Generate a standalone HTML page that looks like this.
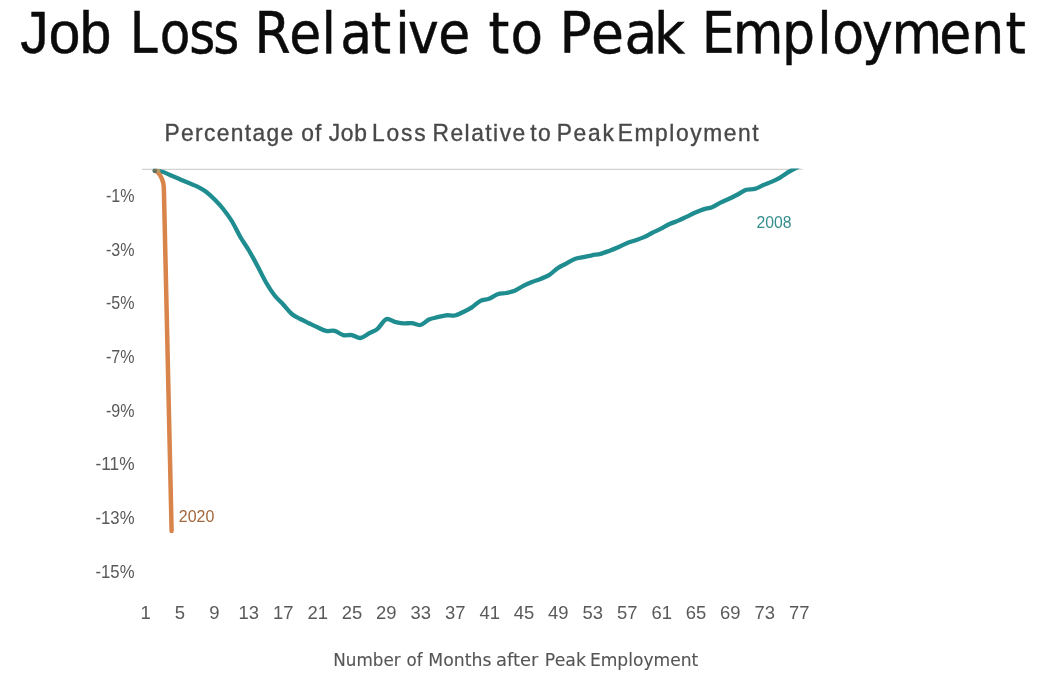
<!DOCTYPE html>
<html><head><meta charset="utf-8"><style>
html,body{margin:0;padding:0;background:#fff;}
body{width:1042px;height:688px;overflow:hidden;}
svg{display:block}
text{font-family:"Liberation Sans",sans-serif}
.t{font-size:60px;fill:#0b0b0b;stroke:#0b0b0b;stroke-width:0.5px}
.st{font-size:23.5px;fill:#484848;stroke:#484848;stroke-width:0.35px}
.yl{font-size:19px;fill:#595959}
.xl{font-size:18.5px;fill:#595959}
.xt{font-size:17.8px;font-family:'DejaVu Sans',sans-serif;fill:#555;stroke:#555;stroke-width:0.1px}
.lb{font-size:16px}
</style></head><body>
<svg width="1042" height="688" viewBox="0 0 1042 688">
<rect width="1042" height="688" fill="#fff"/>
<text transform="scale(0.9448,1)" x="21.53 51.55 84.53" y="53.2" class="t" style="font-family:&quot;Liberation Sans&quot;,sans-serif;font-size:60px">Job</text>
<text transform="scale(0.8701,1)" x="149.06 183.5 217.55 245.13" y="53.2" class="t" style="font-family:&quot;DejaVu Sans&quot;,sans-serif;font-size:57.5px">Loss</text>
<text transform="scale(0.9033,1)" x="281.88 320.19 355.99 376.6 410.55 437.52 451.6 485.19" y="53.2" class="t" style="font-family:&quot;DejaVu Sans&quot;,sans-serif;font-size:57.5px">Relative</text>
<text transform="scale(0.9248,1)" x="528.3 552.14" y="53.2" class="t" style="font-family:&quot;DejaVu Sans&quot;,sans-serif;font-size:57.5px">to</text>
<text transform="scale(0.9308,1)" x="601.21 634.92 670.96 702.62" y="53.2" class="t" style="font-family:&quot;DejaVu Sans&quot;,sans-serif;font-size:57.5px">Peak</text>
<text transform="scale(0.9048,1)" x="775.68 809.79 864.16 903.29 919.82 952.7 985.19 1037.97 1073.44 1111.34" y="53.2" class="t" style="font-family:&quot;DejaVu Sans&quot;,sans-serif;font-size:57.5px">Employment</text>

<text transform="scale(0.97,1)" x="169.65" y="141.1" class="st" textLength="132.62" lengthAdjust="spacing">Percentage</text><text transform="scale(0.97,1)" x="310.65" y="141.1" class="st" textLength="20.71" lengthAdjust="spacing">of</text><text transform="scale(0.97,1)" x="338.97" y="141.1" class="st" textLength="39.24" lengthAdjust="spacing">Job</text><text transform="scale(0.97,1)" x="383.57" y="141.1" class="st" textLength="55.32" lengthAdjust="spacing">Loss</text><text transform="scale(0.97,1)" x="445.94" y="141.1" class="st" textLength="95.48" lengthAdjust="spacing">Relative</text><text transform="scale(0.97,1)" x="546.6" y="141.1" class="st" textLength="21.12" lengthAdjust="spacing">to</text><text transform="scale(0.97,1)" x="573.88" y="141.1" class="st" textLength="58.97" lengthAdjust="spacing">Peak</text><text transform="scale(0.97,1)" x="636.87" y="141.1" class="st" textLength="145.22" lengthAdjust="spacing">Employment</text>
<text x="333.21" y="666.4" class="xt" textLength="67.4" lengthAdjust="spacingAndGlyphs">Number</text><text x="406.56" y="666.4" class="xt" textLength="16.03" lengthAdjust="spacingAndGlyphs">of</text><text x="428.36" y="666.4" class="xt" textLength="63.11" lengthAdjust="spacingAndGlyphs">Months</text><text x="496.09" y="666.4" class="xt" textLength="42.39" lengthAdjust="spacingAndGlyphs">after</text><text x="544.85" y="666.4" class="xt" textLength="41.07" lengthAdjust="spacingAndGlyphs">Peak</text><text x="589.88" y="666.4" class="xt" textLength="108.38" lengthAdjust="spacingAndGlyphs">Employment</text>
<line x1="142" y1="169.4" x2="802.5" y2="169.4" stroke="#d2d2d2" stroke-width="1.4"/>
<text x="106.0" y="201.8" class="yl" textLength="28.5" lengthAdjust="spacingAndGlyphs">-1%</text>
<text x="106.0" y="255.5" class="yl" textLength="28.5" lengthAdjust="spacingAndGlyphs">-3%</text>
<text x="106.0" y="309.2" class="yl" textLength="28.5" lengthAdjust="spacingAndGlyphs">-5%</text>
<text x="106.0" y="362.9" class="yl" textLength="28.5" lengthAdjust="spacingAndGlyphs">-7%</text>
<text x="106.0" y="416.6" class="yl" textLength="28.5" lengthAdjust="spacingAndGlyphs">-9%</text>
<text x="95.5" y="470.3" class="yl" textLength="39" lengthAdjust="spacingAndGlyphs">-11%</text>
<text x="95.5" y="524.0" class="yl" textLength="39" lengthAdjust="spacingAndGlyphs">-13%</text>
<text x="95.5" y="577.7" class="yl" textLength="39" lengthAdjust="spacingAndGlyphs">-15%</text>

<text x="145.6" y="618.6" text-anchor="middle" class="xl">1</text>
<text x="180.0" y="618.6" text-anchor="middle" class="xl">5</text>
<text x="214.4" y="618.6" text-anchor="middle" class="xl">9</text>
<text x="238.5" y="618.6" class="xl" textLength="20.5" lengthAdjust="spacingAndGlyphs">13</text>
<text x="272.9" y="618.6" class="xl" textLength="20.5" lengthAdjust="spacingAndGlyphs">17</text>
<text x="307.4" y="618.6" class="xl" textLength="20.5" lengthAdjust="spacingAndGlyphs">21</text>
<text x="341.8" y="618.6" class="xl" textLength="20.5" lengthAdjust="spacingAndGlyphs">25</text>
<text x="376.1" y="618.6" class="xl" textLength="20.5" lengthAdjust="spacingAndGlyphs">29</text>
<text x="410.5" y="618.6" class="xl" textLength="20.5" lengthAdjust="spacingAndGlyphs">33</text>
<text x="444.9" y="618.6" class="xl" textLength="20.5" lengthAdjust="spacingAndGlyphs">37</text>
<text x="479.4" y="618.6" class="xl" textLength="20.5" lengthAdjust="spacingAndGlyphs">41</text>
<text x="513.8" y="618.6" class="xl" textLength="20.5" lengthAdjust="spacingAndGlyphs">45</text>
<text x="548.1" y="618.6" class="xl" textLength="20.5" lengthAdjust="spacingAndGlyphs">49</text>
<text x="582.5" y="618.6" class="xl" textLength="20.5" lengthAdjust="spacingAndGlyphs">53</text>
<text x="616.9" y="618.6" class="xl" textLength="20.5" lengthAdjust="spacingAndGlyphs">57</text>
<text x="651.4" y="618.6" class="xl" textLength="20.5" lengthAdjust="spacingAndGlyphs">61</text>
<text x="685.8" y="618.6" class="xl" textLength="20.5" lengthAdjust="spacingAndGlyphs">65</text>
<text x="720.1" y="618.6" class="xl" textLength="20.5" lengthAdjust="spacingAndGlyphs">69</text>
<text x="754.5" y="618.6" class="xl" textLength="20.5" lengthAdjust="spacingAndGlyphs">73</text>
<text x="789.0" y="618.6" class="xl" textLength="20.5" lengthAdjust="spacingAndGlyphs">77</text>

<defs><clipPath id="pa"><rect x="100" y="168.6" width="720" height="420"/></clipPath></defs>
<g clip-path="url(#pa)" fill="none" stroke-linejoin="round" stroke-linecap="round">
<path d="M154.60,170.50 C156.03,170.75 160.32,171.12 163.17,172.00 C166.03,172.88 168.89,174.57 171.75,175.80 C174.61,177.03 177.47,178.20 180.32,179.40 C183.18,180.60 186.04,181.80 188.90,183.00 C191.76,184.20 194.62,185.13 197.47,186.60 C200.33,188.07 203.19,189.63 206.05,191.80 C208.91,193.97 211.77,196.73 214.62,199.60 C217.48,202.47 220.34,205.43 223.20,209.00 C226.06,212.57 228.92,216.33 231.77,221.00 C234.63,225.67 237.49,232.08 240.35,237.00 C243.21,241.92 246.07,245.67 248.92,250.50 C251.78,255.33 254.64,260.67 257.50,266.00 C260.36,271.33 263.22,277.58 266.07,282.50 C268.93,287.42 271.79,291.83 274.65,295.50 C277.51,299.17 280.37,301.42 283.23,304.50 C286.08,307.58 288.94,311.58 291.80,314.00 C294.66,316.42 297.52,317.47 300.38,319.00 C303.23,320.53 306.09,321.82 308.95,323.20 C311.81,324.58 314.67,326.02 317.52,327.30 C320.38,328.58 323.24,330.30 326.10,330.90 C328.96,331.50 331.82,330.20 334.67,330.90 C337.53,331.60 340.39,334.40 343.25,335.10 C346.11,335.80 348.97,334.62 351.82,335.10 C354.68,335.58 357.54,338.28 360.40,338.00 C363.26,337.72 366.12,334.93 368.97,333.40 C371.83,331.87 374.69,331.17 377.55,328.80 C380.41,326.43 383.27,320.35 386.12,319.20 C388.98,318.05 391.84,321.20 394.70,321.90 C397.56,322.60 400.42,323.20 403.27,323.40 C406.13,323.60 408.99,322.83 411.85,323.10 C414.71,323.37 417.57,325.60 420.42,325.00 C423.28,324.40 426.14,320.80 429.00,319.50 C431.86,318.20 434.72,317.90 437.57,317.20 C440.43,316.50 443.29,315.58 446.15,315.30 C449.01,315.02 451.87,316.05 454.73,315.50 C457.58,314.95 460.44,313.35 463.30,312.00 C466.16,310.65 469.02,309.25 471.88,307.40 C474.73,305.55 477.59,302.33 480.45,300.90 C483.31,299.47 486.17,299.92 489.02,298.80 C491.88,297.68 494.74,295.17 497.60,294.20 C500.46,293.23 503.32,293.58 506.17,293.00 C509.03,292.42 511.89,291.90 514.75,290.70 C517.61,289.50 520.47,287.25 523.32,285.80 C526.18,284.35 529.04,283.15 531.90,282.00 C534.76,280.85 537.62,280.05 540.47,278.90 C543.33,277.75 546.19,276.88 549.05,275.10 C551.91,273.32 554.77,270.12 557.62,268.20 C560.48,266.28 563.34,265.13 566.20,263.60 C569.06,262.07 571.92,260.07 574.77,259.00 C577.63,257.93 580.49,257.82 583.35,257.20 C586.21,256.58 589.07,255.87 591.92,255.30 C594.78,254.73 597.64,254.53 600.50,253.80 C603.36,253.07 606.22,251.95 609.07,250.90 C611.93,249.85 614.79,248.75 617.65,247.50 C620.51,246.25 623.37,244.57 626.22,243.40 C629.08,242.23 631.94,241.50 634.80,240.50 C637.66,239.50 640.52,238.65 643.38,237.40 C646.23,236.15 649.09,234.42 651.95,233.00 C654.81,231.58 657.67,230.35 660.52,228.90 C663.38,227.45 666.24,225.63 669.10,224.30 C671.96,222.97 674.82,222.13 677.67,220.90 C680.53,219.67 683.39,218.25 686.25,216.90 C689.11,215.55 691.97,214.05 694.82,212.80 C697.68,211.55 700.54,210.33 703.40,209.40 C706.26,208.47 709.12,208.33 711.98,207.20 C714.83,206.07 717.69,204.00 720.55,202.60 C723.41,201.20 726.27,200.15 729.12,198.80 C731.98,197.45 734.84,196.00 737.70,194.50 C740.56,193.00 743.42,190.73 746.27,189.80 C749.13,188.87 751.99,189.70 754.85,188.90 C757.71,188.10 760.57,186.22 763.42,185.00 C766.28,183.78 769.14,182.88 772.00,181.60 C774.86,180.32 777.72,178.95 780.57,177.30 C783.43,175.65 786.29,173.42 789.15,171.70 C792.01,169.98 796.30,167.78 797.73,167.00" stroke="#1f8d90" stroke-width="4.3"/>
<path d="M155.8,170.9 Q160.5,173.5 163.3,183 Q163.8,186 163.9,190 L171.6,531" stroke="#d8844a" stroke-width="4.5"/>
</g>
<ellipse cx="158.4" cy="171.1" rx="2.1" ry="2.1" fill="#b89a62"/><ellipse cx="154.9" cy="171.1" rx="2.2" ry="2.2" fill="#68705c"/>
<text x="756.5" y="227.7" class="lb" fill="#338d8d" textLength="35" lengthAdjust="spacingAndGlyphs">2008</text>
<text x="178.8" y="522.4" class="lb" fill="#a2673c" textLength="35.5" lengthAdjust="spacingAndGlyphs">2020</text>
</svg>
</body></html>
